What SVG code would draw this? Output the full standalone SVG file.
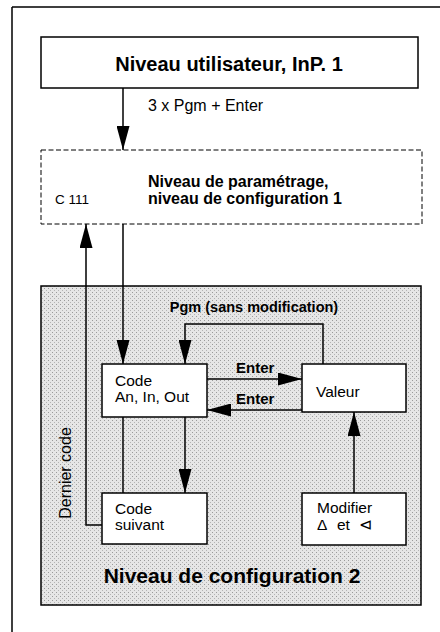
<svg xmlns="http://www.w3.org/2000/svg" width="440" height="632" viewBox="0 0 440 632">
<defs>
<style>
.t{font-family:"Liberation Sans",Arial,sans-serif;fill:#000}
.b{font-weight:bold}
.n{font-size:15.5px}
.box{fill:#fff;stroke:#000;stroke-width:1.5}
.ln{fill:none;stroke:#000;stroke-width:1.5}
</style>
<pattern id="dots" width="4" height="4" patternUnits="userSpaceOnUse">
<rect width="4" height="4" fill="#e6e6e6"/>
<rect x="0" y="0" width="1" height="1" fill="#9a9a9a"/>
<rect x="2" y="2" width="1" height="1" fill="#b4b4b4"/>
</pattern>
<marker id="ahL" viewBox="0 0 24 13" refX="24" refY="6.5" markerWidth="24" markerHeight="13" markerUnits="userSpaceOnUse" orient="auto">
<path d="M0,0 L24,6.5 L0,13 Z" fill="#000"/>
</marker>
</defs>
<g id="frame">
<path d="M12,7 H440 M12,7 V632" class="ln"/>
</g>
<g id="config2">
<rect x="41" y="286" width="380" height="319" fill="url(#dots)" stroke="#000" stroke-width="1.5"/>
<text class="t b" x="232" y="583" font-size="21" text-anchor="middle">Niveau de configuration 2</text>
</g>
<g id="user">
<rect class="box" x="41" y="37" width="377" height="51"/>
<text class="t b" x="229" y="71" font-size="20" text-anchor="middle">Niveau utilisateur, InP. 1</text>
</g>
<g id="param">
<rect x="41" y="150" width="381" height="74" fill="#fff" stroke="#000" stroke-width="1" stroke-dasharray="5,2.5"/>
<text class="t b" x="148" y="187" font-size="16">Niveau de paramétrage,</text>
<text class="t b" x="148" y="204" font-size="16">niveau de configuration 1</text>
<text class="t" x="55" y="204" font-size="13.5">C 111</text>
</g>
<g id="code">
<rect class="box" x="102" y="364" width="105" height="53"/>
<text class="t n" x="115" y="386">Code</text>
<text class="t n" x="115" y="402">An, In, Out</text>
</g>
<g id="valeur">
<rect class="box" x="302" y="364" width="104" height="48"/>
<text class="t n" x="316" y="397">Valeur</text>
</g>
<g id="suivant">
<rect class="box" x="102" y="493" width="105" height="51"/>
<text class="t n" x="115" y="514">Code</text>
<text class="t n" x="115" y="530">suivant</text>
</g>
<g id="modifier">
<rect class="box" x="302" y="493" width="104" height="52"/>
<text class="t n" x="317" y="513">Modifier</text>
<text class="t n" y="530"><tspan x="317">Δ</tspan><tspan x="337">et</tspan><tspan x="359">⊲</tspan></text>
</g>
<g id="connectors">
<line class="ln" x1="123" y1="88" x2="123" y2="150" marker-end="url(#ahL)"/>
<text class="t" x="148" y="111" font-size="16">3 x Pgm + Enter</text>
<line class="ln" x1="123" y1="224" x2="123" y2="364" marker-end="url(#ahL)"/>
<path class="ln" d="M102,525 H86 V224" marker-end="url(#ahL)"/>
<text class="t" transform="translate(71,473) rotate(-90)" font-size="16" text-anchor="middle">Dernier code</text>
<path class="ln" d="M323,364 V324 H185 V364" marker-end="url(#ahL)"/>
<text class="t b" x="254" y="312" font-size="14.5" text-anchor="middle">Pgm (sans modification)</text>
<line class="ln" x1="207" y1="379" x2="302" y2="379" marker-end="url(#ahL)"/>
<text class="t b" x="236" y="373" font-size="15">Enter</text>
<line class="ln" x1="302" y1="410" x2="207" y2="410" marker-end="url(#ahL)"/>
<text class="t b" x="236" y="404" font-size="15">Enter</text>
<line class="ln" x1="123" y1="417" x2="123" y2="493"/>
<line class="ln" x1="185" y1="417" x2="185" y2="493" marker-end="url(#ahL)"/>
<line class="ln" x1="354" y1="493" x2="354" y2="412" marker-end="url(#ahL)"/>
</g>
</svg>
